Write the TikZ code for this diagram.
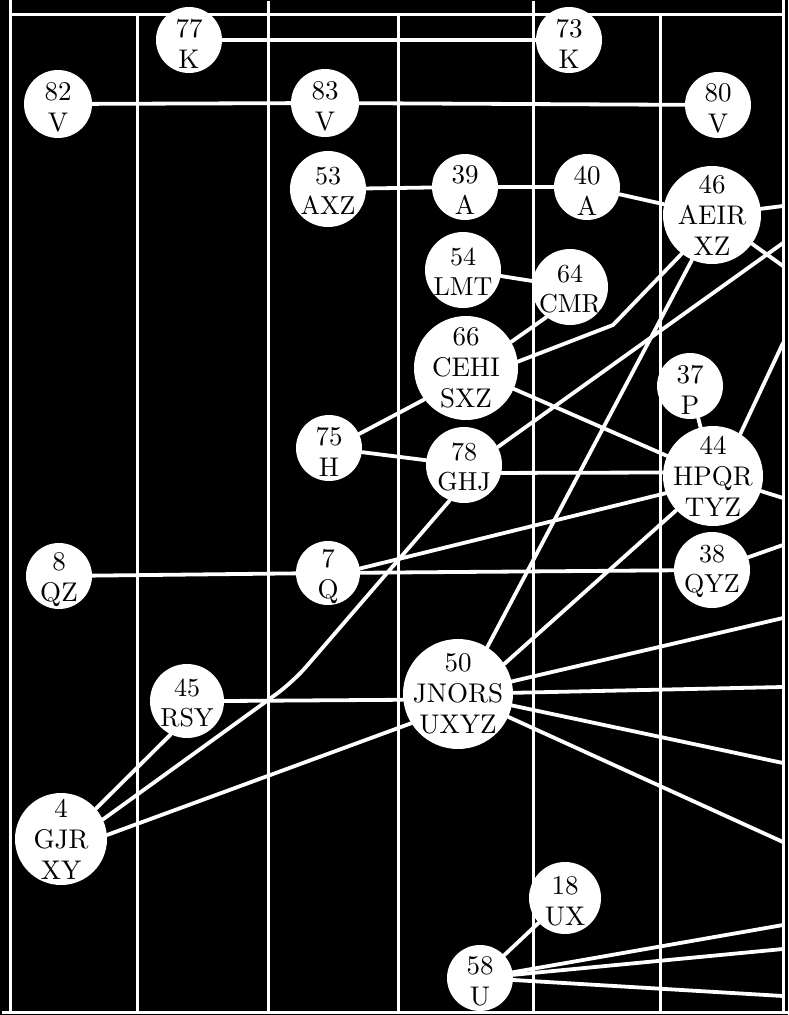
\documentclass[tikz,border=0pt]{standalone}
\usepackage{fontspec}
\newfontfamily\labfont{lmroman10-regular.otf}
\begin{document}
\begin{tikzpicture}[x=1pt,y=-1pt,
  gridline/.style={white,line width=3pt,line cap=rect},
  conn/.style={white,line width=3.8pt,line cap=round},
  circ/.style={circle,fill=white,draw=none,inner sep=0pt,minimum size=#1},
  lab/.style={text=black,align=center,inner sep=0pt,font=\labfont\fontsize{27}{31}\selectfont},
  labtwo/.style={lab,yshift=-3.5pt},
  labtight/.style={lab,yshift=-1.5pt,font=\labfont\fontsize{26}{30}\selectfont}
]
\useasboundingbox (0,0) rectangle (788,1015);
\fill[black] (0,0) rectangle (788,1015);
% grid
\draw[gridline] (10,0) -- (10,1012);
\draw[gridline] (137,14) -- (137,1012);
\draw[gridline] (268,2) -- (268,1012);
\draw[gridline] (398,14) -- (398,1012);
\draw[gridline] (533,2) -- (533,1012);
\draw[gridline] (660,14) -- (660,1012);
\draw[gridline] (783,0) -- (783,1012);
\draw[gridline] (10,14) -- (783,14);
\draw[gridline] (3,1012) -- (786,1012);
% nodes
\node[circ=66pt,label={[labtwo]center:{77\\K}}] (n77) at (189,40) {};
\node[circ=66pt,label={[labtwo]center:{73\\K}}] (n73) at (569,40) {};
\node[circ=68pt,label={[labtwo]center:{82\\V}}] (n82) at (58,104) {};
\node[circ=68pt,label={[labtwo]center:{83\\V}}] (n83) at (325,103) {};
\node[circ=66pt,label={[labtwo]center:{80\\V}}] (n80) at (718,105) {};
\node[circ=76pt,label={[labtight]center:{53\\AXZ}}] (n53) at (328,189) {};
\node[circ=66pt,label={[labtwo]center:{39\\A}}] (n39) at (465,187) {};
\node[circ=66pt,label={[labtwo]center:{40\\A}}] (n40) at (587,187) {};
\node[circ=98pt,label={[lab]center:{46\\AEIR\\XZ}}] (n46) at (712,215) {};
\node[circ=76pt,label={[labtight]center:{54\\LMT}}] (n54) at (463,270) {};
\node[circ=76pt,label={[labtight]center:{64\\CMR}}] (n64) at (570,287) {};
\node[circ=104pt,label={[lab]center:{66\\CEHI\\SXZ}}] (n66) at (466,368) {};
\node[circ=66pt,label={[labtwo]center:{37\\P}}] (n37) at (690,386) {};
\node[circ=66pt,label={[labtwo]center:{75\\H}}] (n75) at (329,448) {};
\node[circ=76pt,label={[labtight]center:{78\\GHJ}}] (n78) at (464,465) {};
\node[circ=100pt,label={[lab]center:{44\\HPQR\\TYZ}}] (n44) at (713,476) {};
\node[circ=66pt,label={[labtwo]center:{8\\QZ}}] (n8) at (59,576) {};
\node[circ=64pt,label={[labtwo]center:{7\\Q}}] (n7) at (328,573) {};
\node[circ=76pt,label={[labtight]center:{38\\QYZ}}] (n38) at (712,570) {};
\node[circ=110pt,label={[lab]center:{50\\JNORS\\UXYZ}}] (n50) at (458,694) {};
\node[circ=74pt,label={[labtight]center:{45\\RSY}}] (n45) at (187,701) {};
\node[circ=92pt,label={[lab]center:{4\\GJR\\XY}}] (n4) at (61,839) {};
\node[circ=72pt,label={[labtwo]center:{18\\UX}}] (n18) at (565,898) {};
\node[circ=66pt,label={[labtwo]center:{58\\U}}] (n58) at (480,978) {};
% free ends and bends
\coordinate (e1) at (783,206);
\coordinate (e2) at (783,266);
\coordinate (e3) at (783,243);
\coordinate (e4) at (783,343);
\coordinate (e5) at (783,498);
\coordinate (e6) at (783,545);
\coordinate (e7) at (783,618);
\coordinate (e8) at (783,687);
\coordinate (e9) at (783,763);
\coordinate (e10) at (783,842);
\coordinate (e11) at (783,925);
\coordinate (e12) at (783,949);
\coordinate (e13) at (783,996);
\coordinate (b1) at (613,325);
\coordinate (b2) at (293,682);
% connectors
\draw[conn] (n77) -- (n73);
\draw[conn] (n82) -- (n83);
\draw[conn] (n83) -- (n80);
\draw[conn] (n53) -- (n39);
\draw[conn] (n39) -- (n40);
\draw[conn] (n40) -- (n46);
\draw[conn] (n46) -- (e1);
\draw[conn] (n46) -- (e2);
\draw[conn] (n54) -- (n64);
\draw[conn] (n64.232) -- (n66.30);
\draw[conn] (n66.7) -- (b1) -- (n46.-128);
\draw[conn] (n46.-114) -- (n50.58);
\draw[conn] (n78.28) -- (e3);
\draw[conn] (n75.25) -- (n66.217);
\draw[conn] (n75) -- (n78);
\draw[conn] (n78.-12) -- (n44.176);
\draw[conn] (n66) -- (n44);
\draw[conn] (n37) -- (n44);
\draw[conn] (n44.57) -- (e4);
\draw[conn] (n44) -- (e5);
\draw[conn] (n7.8) -- (n44.200);
\draw[conn] (n8) -- (n7);
\draw[conn] (n7) -- (n38);
\draw[conn] (n38) -- (e6);
\draw[conn,rounded corners=20pt] (n78.-112) -- (b2) -- (n4.25);
\draw[conn] (n45.0) -- (n50.186);
\draw[conn] (n45.-116) -- (n4.41);
\draw[conn] (n4.5) -- (n50.212);
\draw[conn] (n50.33) -- (n44.-137);
\draw[conn] (n50) -- (e7);
\draw[conn] (n50) -- (e8);
\draw[conn] (n50) -- (e9);
\draw[conn] (n50) -- (e10);
\draw[conn] (n58) -- (n18);
\draw[conn] (n58) -- (e11);
\draw[conn] (n58) -- (e12);
\draw[conn] (n58) -- (e13);
\end{tikzpicture}
\end{document}
